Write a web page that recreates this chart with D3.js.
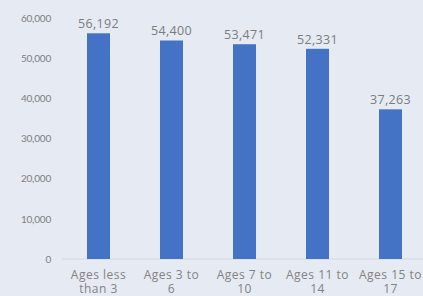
<!DOCTYPE html>
<html>
<head>
<meta charset="utf-8">
<script src="https://cdn.jsdelivr.net/npm/d3@7"></script>
<style>
  body { margin: 0; background: #e5eaf3; }
  svg { display: block; }
</style>
</head>
<body>
<script>
// chart data
let categories = ["Ages less than 3", "Ages 3 to 6", "Ages 7 to 10", "Ages 11 to 14", "Ages 15 to 17"];
let catLines = [["Ages less", "than 3"], ["Ages 3 to", "6"], ["Ages 7 to", "10"], ["Ages 11 to", "14"], ["Ages 15 to", "17"]];
let values = [56192, 54400, 53471, 52331, 37263];
let yTicks = [0, 10000, 20000, 30000, 40000, 50000, 60000];

let width = 423, height = 296;

let svg = d3.select("body").append("svg")
    .attr("width", width)
    .attr("height", height);

svg.append("rect")
    .attr("width", width)
    .attr("height", height)
    .attr("fill", "#e5eaf3");

let x = d3.scaleBand()
    .domain(categories)
    .range([62, 427])
    .paddingInner(0.685)
    .paddingOuter(0.3425);

let y = d3.scaleLinear()
    .domain([0, 60000])
    .range([259, 18]);

// baseline
svg.append("line")
    .attr("x1", 62).attr("x2", width)
    .attr("y1", y(0)).attr("y2", y(0))
    .attr("stroke", "#d1d6df")
    .attr("stroke-width", 1);

// y axis labels
let yAxis = svg.append("g")
    .attr("transform", "translate(51,0)")
    .call(d3.axisLeft(y).tickValues(yTicks).tickSize(0).tickPadding(0)
        .tickFormat(d3.format(",")));
yAxis.select(".domain").remove();
yAxis.selectAll("text")
    .attr("fill", "#808080")
    .style("font-family", "Lato, sans-serif")
    .style("font-size", "10px")
    .style("letter-spacing", "-0.2px");

// bars
svg.append("g")
    .selectAll("rect")
    .data(values)
    .enter()
    .append("rect")
    .attr("x", (d, i) => x(categories[i]))
    .attr("y", d => y(d))
    .attr("width", x.bandwidth())
    .attr("height", d => y(0) - y(d))
    .attr("fill", "#4472c4");

// value labels
svg.append("g")
    .selectAll("text")
    .data(values)
    .enter()
    .append("text")
    .attr("x", (d, i) => x(categories[i]) + x.bandwidth() / 2)
    .attr("y", d => y(d) - 5)
    .attr("text-anchor", "middle")
    .attr("fill", "#7c7c7c")
    .style("font-family", "'Open Sans', sans-serif")
    .style("font-size", "12.5px")
    .style("letter-spacing", "0.3px")
    .text(d => d3.format(",")(d));

// category labels
let catG = svg.append("g")
    .selectAll("text")
    .data(catLines)
    .enter()
    .append("text")
    .attr("text-anchor", "middle")
    .attr("fill", "#838383")
    .style("font-family", "'Open Sans', sans-serif")
    .style("font-size", "12px")
    .style("letter-spacing", "0.5px");

catG.selectAll("tspan")
    .data((d, i) => d.map(t => ({t: t, i: i})))
    .enter()
    .append("tspan")
    .attr("x", d => x(categories[d.i]) + x.bandwidth() / 2)
    .attr("y", (d, j) => 279 + j * 13.5)
    .text(d => d.t);
</script>
</body>
</html>
